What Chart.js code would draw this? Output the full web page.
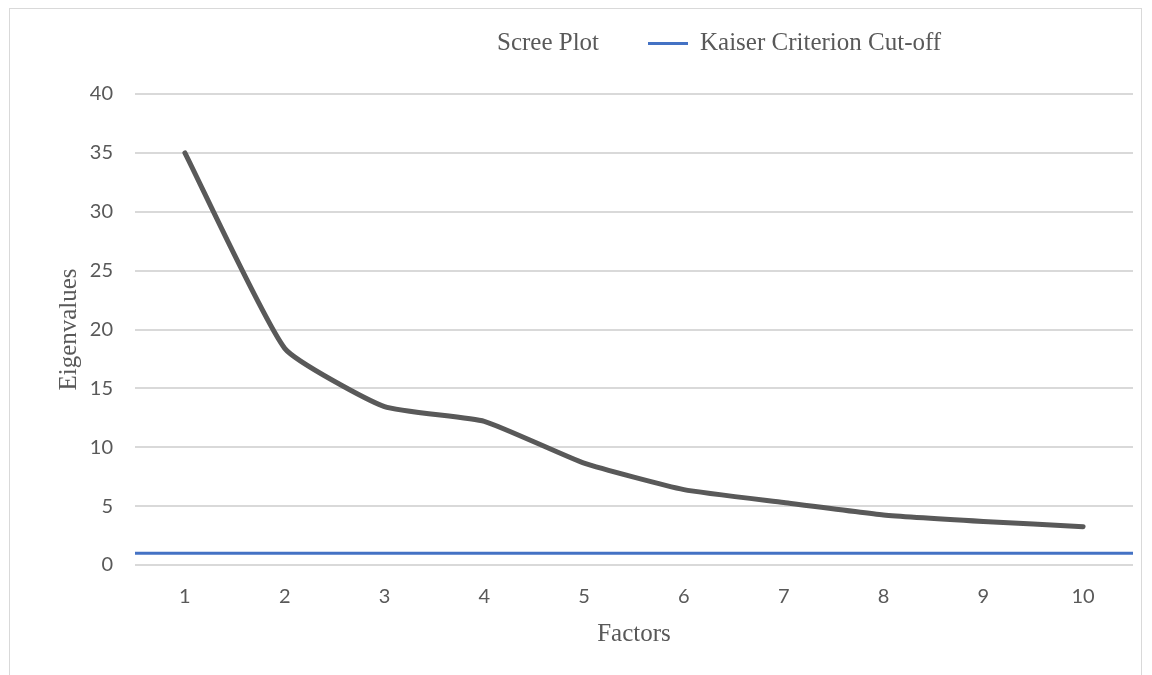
<!DOCTYPE html>
<html>
<head>
<meta charset="utf-8">
<script src="https://cdn.jsdelivr.net/npm/chart.js@4"></script>
<style>
  html, body { margin: 0; padding: 0; background: #fff; overflow: hidden; }
  #frame { position: absolute; left: 9px; top: 8px; width: 1131px; height: 678px; border: 1px solid #d9d9d9; }
  #legend { position: absolute; left: 0; top: 0; width: 1152px; height: 80px; font-family: "Liberation Serif", serif; font-size: 25px; color: #595959; }
  #legend span { position: absolute; top: 28px; white-space: nowrap; }
  #legend .swatch { position: absolute; left: 648px; top: 42px; width: 40px; height: 3px; background: #4472c4; }
</style>
</head>
<body>
<div id="frame"><canvas id="scree" width="1131" height="678"></canvas></div>
<div id="legend">
  <span style="left:497px">Scree Plot</span>
  <div class="swatch"></div>
  <span style="left:700px">Kaiser Criterion Cut-off</span>
</div>
<script>
// values
const factors = ['1', '2', '3', '4', '5', '6', '7', '8', '9', '10'];
const eigenvalues = [35.0, 18.4, 13.45, 12.2, 8.65, 6.4, 5.3, 4.25, 3.7, 3.25];
const kaiserCutoff = 1;

const tickColor = '#595959';
const gridColor = '#d9d9d9';

let ctx = document.getElementById('scree');
new Chart(ctx, {
    type: 'line',
    data: {
        labels: factors,
        datasets: [{
            label: 'Scree Plot',
            data: eigenvalues,
            borderColor: '#595959',
            borderWidth: 5,
            borderCapStyle: 'round',
            pointRadius: 0,
            tension: 0.15,
            xAxisID: 'x',
            order: 1
        }, {
            label: 'Kaiser Criterion Cut-off',
            // spans the whole plot width, like the reference
            data: [{ x: 0, y: kaiserCutoff }, { x: 1, y: kaiserCutoff }],
            borderColor: '#4472c4',
            borderWidth: 3,
            pointRadius: 0,
            xAxisID: 'x2',
            order: 2
        }]
    },
    options: {
        responsive: false,
        animation: false,
        layout: {
            padding: { left: 38, right: 8, top: 85, bottom: 22 }
        },
        plugins: {
            legend: { display: false },
            tooltip: { enabled: false }
        },
        scales: {
            x: {
                type: 'category',
                offset: true,
                grid: { display: false, drawTicks: false },
                border: { display: false },
                ticks: {
                    color: tickColor,
                    padding: 20,
                    font: { family: 'Lato', size: 20 }
                },
                title: {
                    display: true,
                    text: 'Factors',
                    color: tickColor,
                    font: { family: 'Liberation Serif', size: 25 },
                    padding: { top: 0, bottom: 16 }
                },
                afterFit: s => { s.height = 100; }
            },
            x2: {
                type: 'linear',
                min: 0,
                max: 1,
                display: false
            },
            y: {
                min: 0,
                max: 40,
                grid: { color: gridColor, lineWidth: 2, drawTicks: false },
                border: { display: false },
                ticks: {
                    stepSize: 5,
                    color: tickColor,
                    padding: 22,
                    font: { family: 'Lato', size: 20 }
                },
                title: {
                    display: true,
                    text: 'Eigenvalues',
                    color: tickColor,
                    font: { family: 'Liberation Serif', size: 25 },
                    padding: { top: 6, bottom: 0 }
                },
                afterFit: s => { s.width = 87; }
            }
        }
    }
});
</script>
</body>
</html>
